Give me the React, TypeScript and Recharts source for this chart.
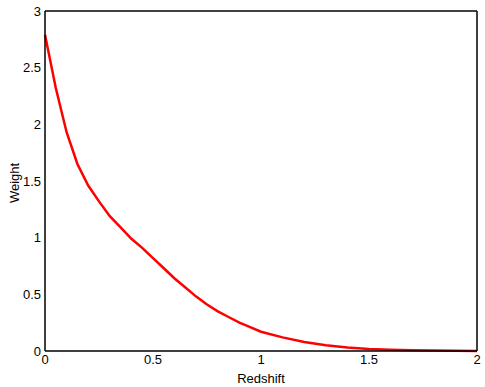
import React from 'react';
import { LineChart, Line, XAxis, YAxis } from 'recharts';

const redshift = [0, 0.05, 0.1, 0.15, 0.2, 0.25, 0.3, 0.35, 0.4, 0.45, 0.5, 0.55, 0.6, 0.65, 0.7, 0.75, 0.8, 0.85, 0.9, 0.95, 1.0, 1.1, 1.2, 1.3, 1.4, 1.5, 1.6, 1.7, 1.8, 1.9, 2.0];
const weight = [2.79, 2.32, 1.93, 1.65, 1.46, 1.32, 1.19, 1.09, 0.99, 0.91, 0.82, 0.73, 0.64, 0.56, 0.48, 0.41, 0.35, 0.3, 0.25, 0.21, 0.17, 0.12, 0.08, 0.05, 0.03, 0.018, 0.011, 0.007, 0.004, 0.002, 0.001];
const xTicks = [0, 0.5, 1, 1.5, 2];
const yTicks = [0, 0.5, 1, 1.5, 2, 2.5, 3];

const data = redshift.map((z, i) => ({ z, w: weight[i] }));

const font = { fontFamily: 'Liberation Sans, Arial, sans-serif', fontSize: 13, fill: '#000' };

const YLabel = (props: any) => {
  const vb = props.viewBox || {};
  const cx = 14;
  const cy = vb.y + vb.height / 2 + 2;
  return (
    <text x={cx} y={cy} transform={`rotate(-90 ${cx} ${cy})`} textAnchor="middle" dominantBaseline="central" style={font}>
      Weight
    </text>
  );
};

const XLabel = (props: any) => {
  const vb = props.viewBox || {};
  const cx = vb.x + vb.width / 2;
  return (
    <text x={cx} y={378} textAnchor="middle" dominantBaseline="central" style={font}>
      Redshift
    </text>
  );
};

export default function App() {
  return (
    <div style={{ position: 'absolute', left: 0, top: 0, width: 485, height: 387, background: '#fff' }}>
      <LineChart width={485} height={387} data={data} margin={{ top: 11, right: 8, left: 0, bottom: 0 }}>
        <XAxis xAxisId="b" dataKey="z" type="number" domain={[0, 2]} ticks={xTicks} orientation="bottom" height={36}
          tickLine={false} tickSize={0} tickMargin={4} axisLine={{ stroke: '#000', strokeWidth: 1.5 }} tick={font}
          label={<XLabel />} />
        <XAxis xAxisId="bm" dataKey="z" type="number" domain={[0, 2]} ticks={xTicks} orientation="bottom" mirror
          tick={false} axisLine={false} tickLine={{ stroke: '#000', strokeWidth: 1.2 }} tickSize={4} />
        <XAxis xAxisId="t" dataKey="z" type="number" domain={[0, 2]} ticks={xTicks} orientation="top" mirror
          tick={false} axisLine={{ stroke: '#000', strokeWidth: 1.5 }} tickLine={{ stroke: '#000', strokeWidth: 1.2 }} tickSize={4} />
        <YAxis yAxisId="l" type="number" domain={[0, 3]} ticks={yTicks} orientation="left" width={45}
          tickLine={false} tickSize={0} tickMargin={4} axisLine={{ stroke: '#000', strokeWidth: 1.5 }} tick={font}
          label={<YLabel />} />
        <YAxis yAxisId="lm" type="number" domain={[0, 3]} ticks={yTicks} orientation="left" mirror
          tick={false} axisLine={false} tickLine={{ stroke: '#000', strokeWidth: 1.2 }} tickSize={4} />
        <YAxis yAxisId="r" type="number" domain={[0, 3]} ticks={yTicks} orientation="right" mirror
          tick={false} axisLine={{ stroke: '#000', strokeWidth: 1.5 }} tickLine={{ stroke: '#000', strokeWidth: 1.2 }} tickSize={4} />
        <Line xAxisId="b" yAxisId="l" type="linear" dataKey="w" stroke="#ff0000" strokeWidth={2.5} dot={false} isAnimationActive={false} />
      </LineChart>
    </div>
  );
}
